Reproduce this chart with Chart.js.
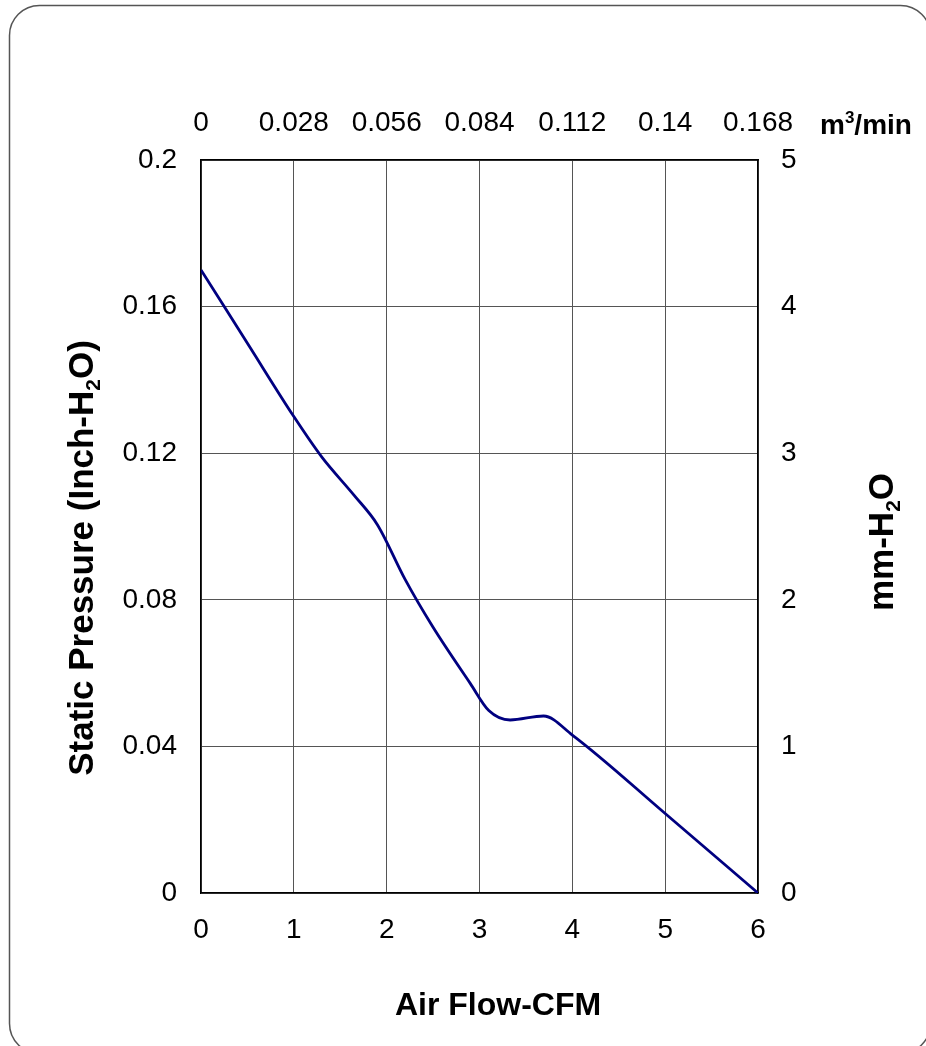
<!DOCTYPE html>
<html>
<head>
<meta charset="utf-8">
<script src="https://cdn.jsdelivr.net/npm/chart.js@4"></script>
<style>
  html, body { margin: 0; padding: 0; background: #fff; overflow: hidden; }
  #wrap { width: 926px; height: 1046px; position: relative; }
</style>
</head>
<body>
<div id="wrap"><canvas id="pq-chart" width="926" height="1046"></canvas></div>
<script>
// fan P-Q curve
const airflowCfm = [0, 0.5, 1, 1.3, 1.65, 1.9, 2.2, 2.5, 2.9, 3.1, 3.33, 3.69, 4, 5, 6];
const pressureInch = [0.170, 0.150, 0.130, 0.119, 0.1085, 0.1005, 0.0855, 0.0725, 0.0572, 0.0498, 0.0472, 0.0483, 0.0431, 0.0217, 0];

const cfmTicks = ['0', '1', '2', '3', '4', '5', '6'];
const m3minTicks = ['0', '0.028', '0.056', '0.084', '0.112', '0.14', '0.168'];
const inchTicks = ['0', '0.04', '0.08', '0.12', '0.16', '0.2'];
const mmTicks = ['0', '1', '2', '3', '4', '5'];

const FONT = '"Liberation Sans", Arial, sans-serif';
const tickFont = { family: FONT, size: 28 };

// draws frame, axis titles (with sub/superscripts) and unit label
const decorations = {
    id: 'decorations',
    beforeDraw(chart) {
        const c = chart.ctx;
        c.save();
        c.strokeStyle = '#555';
        c.lineWidth = 1.5;
        c.beginPath();
        c.roundRect(9.5, 5.5, 921, 1048, 30);
        c.stroke();
        c.restore();
    },
    afterDraw(chart) {
        const c = chart.ctx;
        c.save();
        c.fillStyle = '#000';
        c.textBaseline = 'alphabetic';

        // helper: runs of [text, sizeRatio, baselineShift], anchored at (0,0)
        function runs(parts, size, align) {
            let w = 0;
            parts.forEach(p => {
                c.font = 'bold ' + Math.round(size * p[1]) + 'px ' + FONT;
                w += c.measureText(p[0]).width;
            });
            let x = align === 'left' ? 0 : -w / 2;
            parts.forEach(p => {
                c.font = 'bold ' + Math.round(size * p[1]) + 'px ' + FONT;
                c.fillText(p[0], x, p[2] * size);
                x += c.measureText(p[0]).width;
            });
        }

        // bottom title
        c.save();
        c.translate(498, 1015);
        runs([['Air Flow-CFM', 1, 0]], 32);
        c.restore();

        // left title
        c.save();
        c.translate(93, 558);
        c.rotate(-Math.PI / 2);
        runs([['Static Pressure (Inch-H', 1, 0], ['2', 0.6, 0.2], ['O)', 1, 0]], 35);
        c.restore();

        // right title
        c.save();
        c.translate(893, 542);
        c.rotate(-Math.PI / 2);
        runs([['mm-H', 1, 0], ['2', 0.6, 0.2], ['O', 1, 0]], 35);
        c.restore();

        // unit on top axis
        c.save();
        c.translate(820, 134);
        runs([['m', 1, 0], ['3', 0.6, -0.4], ['/min', 1, 0]], 28, 'left');
        c.restore();

        c.restore();
    }
};

const ctx = document.getElementById('pq-chart').getContext('2d');

const pqChart = new Chart(ctx, {
    type: 'line',
    data: {
        datasets: [{
            data: airflowCfm.map((x, i) => ({ x: x, y: pressureInch[i] })),
            borderColor: '#000080',
            borderWidth: 2.8,
            pointRadius: 0,
            cubicInterpolationMode: 'monotone',
            fill: false,
            xAxisID: 'x',
            yAxisID: 'y'
        }]
    },
    options: {
        responsive: false,
        animation: false,
        devicePixelRatio: 1,
        layout: { padding: 0 },
        plugins: {
            legend: { display: false },
            tooltip: { enabled: false }
        },
        scales: {
            x: {
                type: 'linear',
                position: 'bottom',
                min: 0, max: 6,
                ticks: {
                    stepSize: 1,
                    color: '#000',
                    font: tickFont,
                    padding: 20,
                    maxRotation: 0,
                    callback: (v, i) => cfmTicks[i]
                },
                grid: { color: '#555', lineWidth: 1, drawTicks: false },
                border: { color: '#000', width: 1.5 },
                afterFit: s => { s.height = 153; }
            },
            xTop: {
                type: 'linear',
                position: 'top',
                min: 0, max: 6,
                ticks: {
                    stepSize: 1,
                    color: '#000',
                    font: tickFont,
                    padding: 20,
                    maxRotation: 0,
                    callback: (v, i) => m3minTicks[i]
                },
                grid: { drawOnChartArea: false, drawTicks: false },
                border: { color: '#000', width: 1.5 },
                afterFit: s => { s.height = 160; }
            },
            y: {
                type: 'linear',
                position: 'left',
                min: 0, max: 0.2,
                ticks: {
                    stepSize: 0.04,
                    color: '#000',
                    font: tickFont,
                    padding: 24,
                    callback: (v, i) => inchTicks[i]
                },
                grid: { color: '#555', lineWidth: 1, drawTicks: false },
                border: { color: '#000', width: 1.5 },
                afterFit: s => { s.width = 201; }
            },
            yRight: {
                type: 'linear',
                position: 'right',
                min: 0, max: 5,
                ticks: {
                    stepSize: 1,
                    color: '#000',
                    font: tickFont,
                    padding: 23,
                    callback: (v, i) => mmTicks[i]
                },
                grid: { drawOnChartArea: false, drawTicks: false },
                border: { color: '#000', width: 1.5 },
                afterFit: s => { s.width = 168; }
            }
        }
    },
    plugins: [decorations]
});
</script>
</body>
</html>
